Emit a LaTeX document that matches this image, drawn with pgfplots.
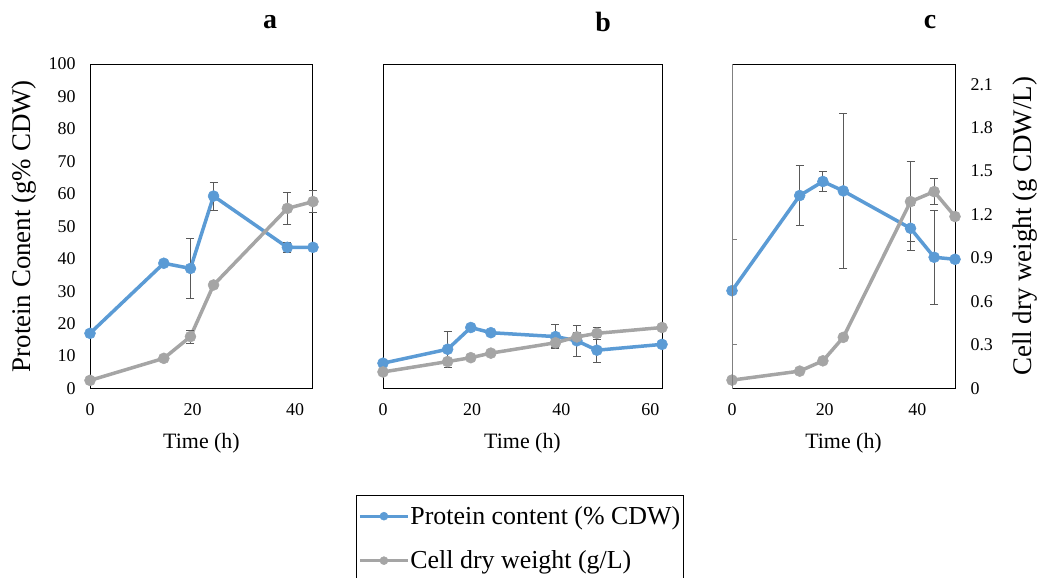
\documentclass[border=0pt]{standalone}
\usepackage{pgfplots}
\pgfplotsset{compat=1.18}
\usepackage{fontspec}
\setmainfont{Liberation Serif}
\definecolor{pblue}{HTML}{5B9BD5}
\definecolor{pgray}{HTML}{A5A5A5}
\definecolor{ebar}{HTML}{595959}

\pgfplotsset{
  panel/.style={
    scale only axis, height=324.5bp, ymin=0,
    axis line style={black, line width=1bp},
    major tick length=0pt,
    tick label style={font=\fontsize{18}{20}\selectfont},
    /pgf/number format/assume math mode=true,
    xtick pos=bottom,
    xticklabel style={yshift=-12bp},
    xlabel={Time (h)},
    xlabel style={font=\fontsize{22}{24}\selectfont, at={(axis description cs:0.5,-0.168)}, anchor=center},
    clip=false,
    legend image code/.code={\draw[mark repeat=2,mark phase=2,##1, line width=3bp, mark size=4bp] plot coordinates {(0bp,0bp) (24bp,0bp) (48bp,0bp)};},
  },
  pline/.style={color=pblue, line width=3.5bp, mark=*, mark size=5.5bp, mark options={solid, line width=0.5bp}},
  gline/.style={color=pgray, line width=3.5bp, mark=*, mark size=5.5bp, mark options={solid, line width=0.5bp}},
  ebars/.style={only marks, mark=*, mark options={draw opacity=0, fill opacity=0}, forget plot,
     error bars/.cd, y dir=both, y explicit,
     error bar style={color=ebar, line width=1bp},
     error mark options={rotate=90, color=ebar, line width=1bp, mark size=4bp, draw opacity=1}},
}

% panel a: series
\pgfplotstableread{
t    p     c
0    17.0  2.5
14.4 38.6  9.3
19.6 37.0  16.0
24.1 59.3  31.9
38.5 43.5  55.5
43.5 43.5  57.6
}\dataA
% panel a: error bars (x, value, error)
\pgfplotstableread{
t    v     e
19.6 37.0  9.3
24.1 59.3  4.3
38.5 43.5  1.5
19.6 16.0  2.0
38.5 55.5  5.0
43.5 57.6  3.5
}\errA
% panel b
\pgfplotstableread{
t    p     c
0    7.8   5.1
14.5 12.1  8.3
19.7 18.8  9.5
24.2 17.2  10.9
38.7 16.0  14.1
43.5 14.7  15.9
48.0 11.8  17.0
62.6 13.6  18.8
}\dataB
\pgfplotstableread{
t    v     e
14.5 12.1  5.6
38.7 16.0  3.6
43.5 14.7  4.8
48.0 11.8  3.8
14.5 8.3   0.8
38.7 14.1  1.5
43.5 15.9  1.5
48.0 17.0  1.8
}\errB
% panel c (right-axis units)
\pgfplotstableread{
t    p      c
0    0.675  0.058
14.6 1.332  0.120
19.6 1.429  0.191
24.0 1.364  0.353
38.5 1.106  1.290
43.6 0.906  1.359
48.1 0.892  1.187
}\dataC
\pgfplotstableread{
t    v      e
14.6 1.332  0.207
19.6 1.429  0.067
24.0 1.364  0.537
38.5 1.106  0.154
43.6 0.906  0.323
38.5 1.290  0.276
43.6 1.359  0.092
}\errC

\begin{document}
\begin{tikzpicture}
\useasboundingbox (0,0) rectangle (1038bp,-578bp);

% ---------- a ----------
\begin{axis}[panel, at={(90bp,-388.5bp)}, anchor=south west, width=223bp,
  xmin=0, xmax=43.5, ymax=100, xtick={0,20,40}, ytick={0,10,...,100},
  ytick pos=left, yticklabel style={xshift=-11bp},
  ylabel={Protein Conent (g\% CDW)},
  ylabel style={font=\fontsize{27}{29}\selectfont, at={(axis description cs:-0.296,0.5)}, anchor=center}]
\addplot[pline] table[x=t,y=p] {\dataA};
\addplot[gline] table[x=t,y=c] {\dataA};
\addplot[ebars] table[x=t,y=v,y error=e] {\errA};
\end{axis}

% ---------- b ----------
\begin{axis}[panel, at={(383bp,-388.5bp)}, anchor=south west, width=279bp,
  xmin=0, xmax=62.6, ymax=100, xtick={0,20,40,60}, ytick=\empty,
  legend style={at={(-0.097,-0.328)}, anchor=north west, draw=black, line width=1bp,
    font=\fontsize{26}{28}\selectfont, inner xsep=2bp, inner ysep=10bp, row sep=23bp,
    nodes={inner sep=1bp}},
  legend cell align=left]
\addplot[pline] table[x=t,y=p] {\dataB};
\addlegendentry{Protein content (\% CDW)}
\addplot[gline] table[x=t,y=c] {\dataB};
\addlegendentry{Cell dry weight (g/L)}
\addplot[ebars] table[x=t,y=v,y error=e] {\errB};
\end{axis}

% ---------- c ----------
\begin{axis}[panel, at={(732bp,-388.5bp)}, anchor=south west, width=223bp,
  xmin=0, xmax=48.1, ymax=2.24, xtick={0,20,40},
  ytick={0,0.3,0.6,0.9,1.2,1.5,1.8,2.1},
  yticklabels={0,0.3,0.6,0.9,1.2,1.5,1.8,2.1},
  ytick pos=right, yticklabel pos=right, yticklabel style={xshift=12bp},
  ylabel={Cell dry weight (g CDW/L)},
  ylabel style={font=\fontsize{27}{29}\selectfont, at={(axis description cs:1.314,0.5)}, anchor=center}]
\addplot[pline] table[x=t,y=p] {\dataC};
\addplot[gline] table[x=t,y=c] {\dataC};
\addplot[ebars] table[x=t,y=v,y error=e] {\errC};
\end{axis}
\begin{axis}[scale only axis, at={(732bp,-388.5bp)}, anchor=south west, width=223bp, height=324.5bp,
  xmin=0, xmax=48.1, ymin=0, ymax=2.24, axis x line=none, axis y line*=left,
  y axis line style={color=gray, line width=1bp, -}, ytick={0.306,1.032}, yticklabels={},
  tick align=inside, major tick length=5bp, ytick style={color=gray, line width=1bp}]
\addplot[draw=none, forget plot] coordinates {(0,0)};
\end{axis}

\node[font=\bfseries\fontsize{28}{30}\selectfont] at (270bp,-22bp) {a};
\node[font=\bfseries\fontsize{28}{30}\selectfont] at (603bp,-22bp) {b};
\node[font=\bfseries\fontsize{28}{30}\selectfont] at (930bp,-22bp) {c};
\end{tikzpicture}
\end{document}
